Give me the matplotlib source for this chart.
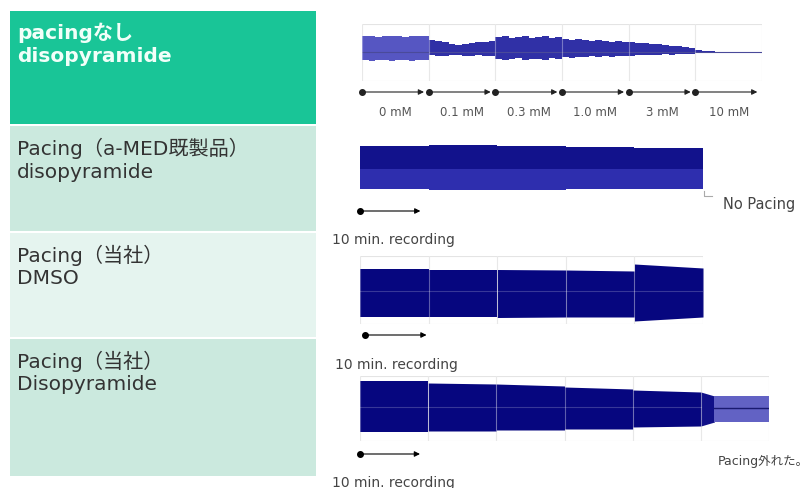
import matplotlib.pyplot as plt
from matplotlib.patches import Rectangle

plt.rcParams['font.family'] = ['DejaVu Sans', 'Noto Sans CJK JP']

# ---- data -------------------------------------------------------------
row_titles = [
    ["pacingなし", "disopyramide"],
    ["Pacing（a-MED既製品）", "disopyramide"],
    ["Pacing（当社）", "DMSO"],
    ["Pacing（当社）", "Disopyramide"],
]
conc_labels = ["0 mM", "0.1 mM", "0.3 mM", "1.0 mM", "3 mM", "10 mM"]

# trace 1: no pacing, 1-min envelope (amplitude above / below baseline)
t1 = list(range(61))
up1 = [16, 16, 15, 16, 16, 16, 15, 16, 16, 16,
       12, 11, 10, 8, 7, 8, 9, 10, 10, 11,
       15, 16, 14, 15, 16, 14, 15, 16, 14, 15,
       13, 12, 13, 12, 11, 12, 11, 10, 11, 10,
       10, 9, 9, 8, 8, 7, 6, 6, 5, 4,
       2, 1, 0.6, 0.5, 0.5, 0.5, 0.5, 0.5, 0.5, 0.5, 0.5]
lo1 = [8, 9, 8, 8, 9, 8, 8, 9, 8, 8,
       3, 4, 4, 3, 3, 4, 4, 3, 4, 4,
       7, 8, 7, 6, 8, 7, 7, 8, 6, 7,
       5, 6, 5, 5, 4, 5, 4, 5, 4, 4,
       4, 3, 3, 3, 3, 2, 3, 2, 2, 2,
       1, 0.6, 0.4, 0.4, 0.4, 0.4, 0.4, 0.4, 0.4, 0.4, 0.4]

# trace 2: a-MED pacing, per 10-min segment
seg2_up = [23, 24, 23, 22, 21]
seg2_lo = [20, 21, 21, 20, 20]

# trace 3: own pacing, DMSO (segment start / end values)
seg3_up_start = [23, 22.5, 22.5, 22, 28]
seg3_up_end = [23, 22.5, 22, 21, 24]
seg3_lo_start = [25, 25, 25.5, 25, 29]
seg3_lo_end = [25, 25, 25, 25, 25]

# trace 4: own pacing, disopyramide
seg4_up_start = [27, 25, 24, 21, 18]
seg4_up_end = [27, 24, 22, 19, 16]
seg4_lo_start = [24, 23, 22, 21, 19]
seg4_lo_end = [24, 23, 22, 21, 18]
lost_t = [50, 52, 60]          # pacing lost after 50 min
lost_up = [16, 12, 12]
lost_lo = [18, 14, 14]

# ---- layout -----------------------------------------------------------
W, H = 809, 489
fig = plt.figure(figsize=(W / 100, H / 100), dpi=100)

bg = fig.add_axes([0, 0, 1, 1])
bg.set_xlim(0, W)
bg.set_ylim(H, 0)
bg.axis('off')

cell_y = [(12, 125), (127, 232), (234, 338), (340, 477)]
cell_colors = ['#19c597', '#cbe9de', '#e5f4ef', '#cbe9de']
for (y0, y1), c, lines in zip(cell_y, cell_colors, row_titles):
    bg.add_patch(Rectangle((10, y0), 306, y1 - y0, color=c, lw=0))
    first = c == '#19c597'
    for k, s in enumerate(lines):
        bg.text(17, y0 + 21 + k * 24, s, fontsize=14.5, va='center',
                color='#f2fff9' if first else '#333333',
                fontweight='bold' if first else 'normal')

small = dict(fontsize=10, color='#444444', va='center')
bg.text(332, 240, "10 min. recording", **small)
bg.text(335, 365, "10 min. recording", **small)
bg.text(332, 483, "10 min. recording", **small)
bg.text(723, 204, "No Pacing", fontsize=10.5, color='#444444', va='center')
bg.text(718, 461, "Pacing外れた。", fontsize=9, color='#444444', va='center')
bg.plot([704, 704, 712], [192, 197, 197], color='#aaaaaa', lw=0.8)


def px_axes(x0, y0, x1, y1):
    ax = fig.add_axes([x0 / W, 1 - y1 / H, (x1 - x0) / W, (y1 - y0) / H])
    ax.set_facecolor('none')
    ax.set_xticks([])
    ax.set_yticks([])
    for sp in ax.spines.values():
        sp.set_visible(False)
    return ax


def grid_box(ax, n):
    ax.vlines(range(0, n * 10 + 1, 10), *ax.get_ylim(), color='#dcdcdc',
              lw=0.8, zorder=0)
    ax.hlines(ax.get_ylim(), 0, n * 10, color='#e4e4e4', lw=0.8, zorder=0)
    ax.vlines(range(0, n * 10 + 1, 10), *ax.get_ylim(), color='white',
              lw=0.8, alpha=0.35, zorder=3)


def rec_arrow(ax, y, start, end, color='black'):
    ax.plot([start], [y], 'o', ms=4, color=color, clip_on=False)
    ax.annotate('', xy=(end, y), xytext=(start, y), annotation_clip=False,
                arrowprops=dict(arrowstyle='-|>', color=color, lw=0.8,
                                mutation_scale=8, shrinkA=0, shrinkB=0))


# trace 1
ax1 = px_axes(362, 25, 762, 82)
ax1.set_xlim(0, 60)
ax1.set_ylim(-29, 28)
grid_box(ax1, 6)
for i in range(6):
    sl = slice(i * 10, i * 10 + 11)
    ax1.fill_between(t1[sl], [-v for v in lo1[sl]], up1[sl], step='post',
                     color='#5656c2' if i == 0 else '#3030a6', lw=0, zorder=2)
ax1.plot([0, 60], [0, 0], color='#4a4a9a', lw=0.8, zorder=2)
for i, lab in enumerate(conc_labels):
    rec_arrow(ax1, -40, i * 10, i * 10 + 9.3, color='#222222')
    ax1.text(i * 10 + 5, -60, lab, fontsize=8.5, color='#555555',
             ha='center', va='center')

# trace 2
ax2 = px_axes(360, 145, 703, 195)
ax2.set_xlim(0, 50)
ax2.set_ylim(-25, 25)
for i in range(5):
    x = [i * 10, i * 10 + 10]
    ax2.fill_between(x, 0, seg2_up[i], color='#12128c', lw=0)
    ax2.fill_between(x, -seg2_lo[i], 0, color='#2e2eae', lw=0)
rec_arrow(ax2, -42, 0, 8.8)

# trace 3
ax3 = px_axes(360, 257, 703, 325)
ax3.set_xlim(0, 50)
ax3.set_ylim(-32, 36)
grid_box(ax3, 5)
for i in range(5):
    x = [i * 10, i * 10 + 10]
    ax3.fill_between(x, [-seg3_lo_start[i], -seg3_lo_end[i]],
                     [seg3_up_start[i], seg3_up_end[i]],
                     color='#06067f', lw=0, zorder=2)
ax3.plot([0, 50], [1, 1], color='white', alpha=0.2, lw=0.8, zorder=3)
rec_arrow(ax3, -43, 0.7, 9.7)

# trace 4
ax4 = px_axes(360, 377, 769, 442)
ax4.set_xlim(0, 60)
ax4.set_ylim(-33, 32)
grid_box(ax4, 6)
for i in range(5):
    x = [i * 10, i * 10 + 10]
    ax4.fill_between(x, [-seg4_lo_start[i], -seg4_lo_end[i]],
                     [seg4_up_start[i], seg4_up_end[i]],
                     color='#06067f', lw=0, zorder=2)
ax4.fill_between(lost_t[:2], [-v for v in lost_lo[:2]], lost_up[:2],
                 color='#101088', lw=0, zorder=2)
ax4.fill_between(lost_t[1:], [-v for v in lost_lo[1:]], lost_up[1:],
                 color='#6262c4', lw=0, zorder=2)
ax4.plot(lost_t[1:], [0, 0], color='#1a1a70', lw=1, zorder=3)
ax4.plot([0, 50], [1, 1], color='white', alpha=0.2, lw=0.8, zorder=3)
rec_arrow(ax4, -46, 0, 8.8)

fig.savefig('out.png', dpi=100)
